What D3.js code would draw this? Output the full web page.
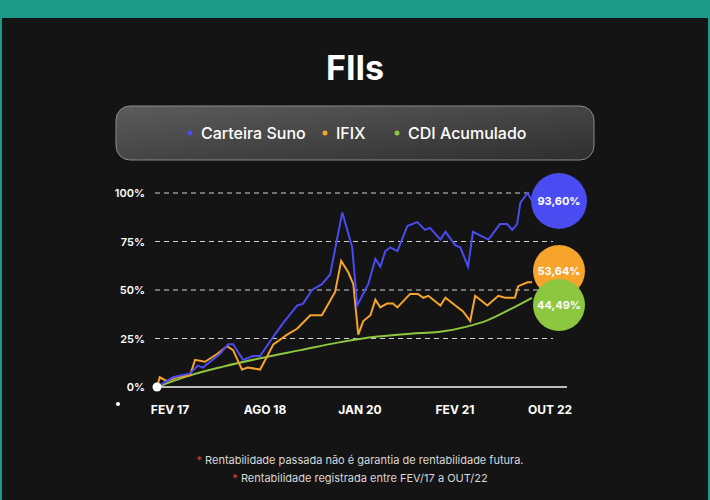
<!DOCTYPE html>
<html>
<head>
<meta charset="utf-8">
<script src="https://cdn.jsdelivr.net/npm/d3@7"></script>
<style>
  body { margin: 0; background: #1b9a88; }
  svg { display: block; font-family: Inter, "Noto Sans", sans-serif; }
</style>
</head>
<body>
<svg id="chart" width="710" height="500"></svg>
<script>
// months since FEV/17 and accumulated return (%)
var sunoMonths = [0, 2.9, 6.0, 7.4, 8.3, 11.4, 12.9, 13.8, 15.6, 17.4, 18.7, 21.1, 22.9, 25.4, 26.5, 28.1, 29.9, 31.4, 33.6, 34.7, 35.4, 36.3, 38.3, 39.6, 40.5, 41.4, 42.3, 43.6, 45.4, 47.2, 48.6, 49.5, 51.4, 52.3, 54.1, 55.0, 56.4, 57.3, 60.1, 62.2, 63.5, 64.4, 65.3, 65.9, 67.2, 68.0]
var sunoValues = [0, 5, 7, 11, 10, 17, 22, 22, 14, 16, 16, 26, 33, 42, 43, 50, 53, 58, 90, 79, 72, 42, 53, 66, 62, 70, 72, 70, 83, 85, 81, 82, 76, 80, 73, 72, 62, 80, 76, 84, 84, 81, 84, 95, 100, 96]

var ifixMonths = [0, 0.5, 1.8, 3.6, 6.0, 6.9, 8.7, 10.9, 12.7, 13.8, 15.4, 16.5, 18.7, 20.0, 21.1, 23.6, 25.4, 27.8, 29.9, 32.3, 33.4, 34.7, 35.6, 36.5, 37.4, 38.7, 39.6, 40.5, 41.7, 42.8, 43.6, 45.9, 47.3, 48.3, 49.2, 51.4, 52.3, 54.1, 55.5, 56.8, 57.7, 59.9, 61.9, 63.1, 64.9, 65.5, 67.2, 68.0]
var ifixValues = [0, 5, 3, 5, 6, 14, 13, 17, 21, 19, 9, 10, 9, 16, 22, 27, 30, 37, 37, 49, 65, 59, 53, 27, 34, 37, 45, 41, 43, 43, 41, 48, 48, 46, 47, 42, 46, 42, 39, 34, 47, 42, 47, 46, 46, 52, 54, 54]

var cdiMonths = [0, 6, 12, 19, 26, 33, 40, 46, 51, 56, 60, 64, 68]
var cdiValues = [0, 6, 10.5, 15, 19, 23, 26, 27.5, 28.3, 31, 34.5, 40, 46]

var yTicks = [0, 25, 50, 75, 100]
var xTickLabels = ["FEV 17", "AGO 18", "JAN 20", "FEV 21", "OUT 22"]
var seriesNames = ["Carteira Suno", "IFIX", "CDI Acumulado"]
var finalLabels = ["93,60%", "53,64%", "44,49%"]
var colors = ["#4b4bf2", "#f6a42c", "#8dc63f"]

var svg = d3.select("#chart")

// dark panel
svg.append("rect").attr("x", 2).attr("y", 18).attr("width", 706).attr("height", 482).attr("fill", "#141414")

svg.append("text").attr("x", 355).attr("y", 80).attr("text-anchor", "middle")
    .attr("fill", "#fff").attr("font-size", 34).attr("font-weight", 700).text("FIIs")

// legend box
var defs = svg.append("defs")
var grad = defs.append("linearGradient").attr("id", "lg").attr("x1", 0).attr("y1", 0).attr("x2", 1).attr("y2", 1)
grad.append("stop").attr("offset", 0).attr("stop-color", "#5c5c5c")
grad.append("stop").attr("offset", 1).attr("stop-color", "#2e2e2e")
svg.append("rect").attr("x", 116).attr("y", 106).attr("width", 478).attr("height", 54).attr("rx", 14)
    .attr("fill", "url(#lg)").attr("stroke", "#8a8a8a").attr("stroke-width", 1)

var legendX = [190, 325, 397]
seriesNames.forEach(function (name, i) {
    svg.append("circle").attr("cx", legendX[i]).attr("cy", 133).attr("r", 2.5).attr("fill", colors[i])
    svg.append("text").attr("x", legendX[i] + 11).attr("y", 139).attr("fill", "#fff")
        .attr("font-size", 16).attr("font-weight", 500).text(name)
})

var x = d3.scaleLinear().domain([0, 68]).range([157, 532])
var y = d3.scaleLinear().domain([0, 100]).range([387, 193])

// grid
svg.selectAll(".grid").data(yTicks.slice(1)).enter().append("line")
    .attr("x1", 155).attr("x2", 553)
    .attr("y1", function (d) { return y(d) }).attr("y2", function (d) { return y(d) })
    .attr("stroke", "#d0d0d0").attr("stroke-width", 1.2).attr("stroke-dasharray", "5,4")
svg.append("line").attr("x1", 155).attr("x2", 567).attr("y1", y(0)).attr("y2", y(0))
    .attr("stroke", "#bdbdbd").attr("stroke-width", 2)

svg.selectAll(".ylab").data(yTicks).enter().append("text")
    .attr("x", 145).attr("y", function (d) { return y(d) + 4 }).attr("text-anchor", "end")
    .attr("fill", "#fff").attr("font-size", 11).attr("font-weight", 600)
    .text(function (d) { return d + "%" })

var xl = d3.scalePoint().domain(xTickLabels).range([170, 550])
svg.selectAll(".xlab").data(xTickLabels).enter().append("text")
    .attr("x", function (d) { return xl(d) }).attr("y", 414).attr("text-anchor", "middle")
    .attr("fill", "#fff").attr("font-size", 12).attr("font-weight", 700).text(function (d) { return d })

var line = d3.line()
    .x(function (d) { return x(d[0]) })
    .y(function (d) { return y(d[1]) })

var cdiLine = d3.line().curve(d3.curveMonotoneX)
    .x(function (d) { return x(d[0]) })
    .y(function (d) { return y(d[1]) })

var series = [
    d3.zip(sunoMonths, sunoValues),
    d3.zip(ifixMonths, ifixValues),
    d3.zip(cdiMonths, cdiValues)
]
svg.append("path").datum(series[2]).attr("d", cdiLine).attr("fill", "none").attr("stroke", colors[2]).attr("stroke-width", 2)
svg.append("path").datum(series[1]).attr("d", line).attr("fill", "none").attr("stroke", colors[1]).attr("stroke-width", 2)
svg.append("path").datum(series[0]).attr("d", line).attr("fill", "none").attr("stroke", colors[0]).attr("stroke-width", 2)

svg.append("circle").attr("cx", x(0)).attr("cy", y(0)).attr("r", 4.5).attr("fill", "#fff")
svg.append("circle").attr("cx", 118).attr("cy", 404).attr("r", 2).attr("fill", "#fff")

// end bubbles
var bubbles = [{ cy: 201, r: 28 }, { cy: 271, r: 26 }, { cy: 305, r: 26 }]
bubbles.forEach(function (b, i) {
    svg.append("circle").attr("cx", 559).attr("cy", b.cy).attr("r", b.r).attr("fill", colors[i])
    svg.append("text").attr("x", 559).attr("y", b.cy + 4).attr("text-anchor", "middle")
        .attr("fill", "#fff").attr("font-size", 11).attr("font-weight", 700).text(finalLabels[i])
})

// footnotes
var notes = ["Rentabilidade passada não é garantia de rentabilidade futura.", "Rentabilidade registrada entre FEV/17 a OUT/22"]
notes.forEach(function (n, i) {
    var t = svg.append("text").attr("x", 360).attr("y", 464 + i * 18).attr("text-anchor", "middle")
        .attr("font-size", 11)
    t.append("tspan").attr("fill", "#e53935").text("* ")
    t.append("tspan").attr("fill", "#d8d8d8").text(n)
})
</script>
</body>
</html>
